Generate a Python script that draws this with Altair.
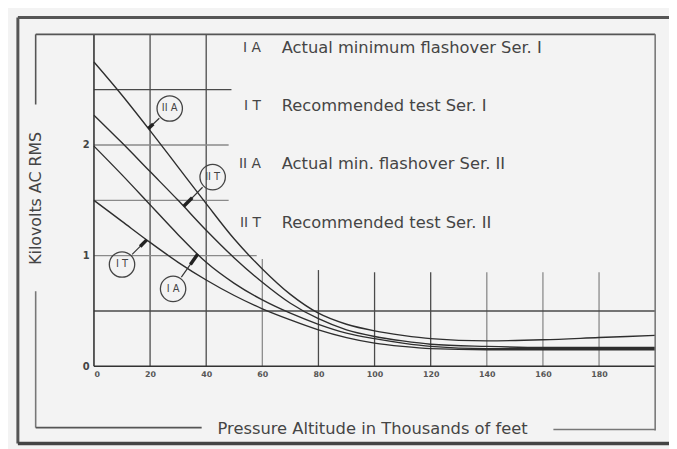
import math
import altair as alt
import pandas as pd

# ---------------- data ----------------
altitude = [0, 10, 20, 30, 40, 50, 60, 70, 80, 90, 100, 110, 120, 140, 160, 180, 200]
kv_IIA = [2.75, 2.45, 2.13, 1.80, 1.47, 1.15, 0.88, 0.65, 0.48, 0.38, 0.32, 0.28, 0.25, 0.23, 0.24, 0.26, 0.28]
kv_IIT = [2.27, 2.02, 1.76, 1.50, 1.23, 0.98, 0.76, 0.57, 0.43, 0.33, 0.27, 0.23, 0.20, 0.18, 0.17, 0.17, 0.17]
kv_IA = [1.99, 1.73, 1.46, 1.19, 0.94, 0.75, 0.60, 0.48, 0.38, 0.30, 0.25, 0.21, 0.18, 0.16, 0.16, 0.16, 0.16]
kv_IT = [1.50, 1.31, 1.12, 0.94, 0.78, 0.64, 0.52, 0.42, 0.33, 0.26, 0.21, 0.18, 0.16, 0.15, 0.15, 0.15, 0.15]

series_codes = ["II A", "II T", "I A", "I T"]
series_values = [kv_IIA, kv_IIT, kv_IA, kv_IT]

legend_codes = ["I A", "I T", "II A", "II T"]
legend_texts = ["Actual minimum flashover Ser. I", "Recommended test Ser. I",
                "Actual min. flashover Ser. II", "Recommended test Ser. II"]

# circled curve labels: which curve, label centre, altitude where the pointer meets the curve
tag_text = ["II A", "II T", "I T", "I A"]
tag_x = [27.0, 42.3, 10.0, 28.2]
tag_y = [2.33, 1.71, 0.92, 0.70]
tip_x = [19.4, 32.0, 18.8, 37.0]

x_ticks = [0, 20, 40, 60, 80, 100, 120, 140, 160, 180]
y_ticks = [0, 1, 2]

# grid of the original drawing (partial lines)
vgrid_x = [20, 40, 60, 80, 100, 120, 140, 160, 180]
vgrid_top = [3.0, 3.0, 0.97, 0.87, 0.85, 0.85, 0.85, 0.85, 0.85]
hgrid_y = [0.5, 1.0, 1.5, 2.0, 2.5]
hgrid_end = [200, 58, 48, 48, 49]

# ---------------- layout ----------------
W, H = 568, 336
XMAX, YMAX = 200, 3.0
PXX, PXY = W / XMAX, H / YMAX
FONT = "DejaVu Sans"
TXT = "#454545"

xs = alt.Scale(domain=[0, XMAX], nice=False, zero=False)
ys = alt.Scale(domain=[0, YMAX], nice=False, zero=False)

rows = []
for code, vals in zip(series_codes, series_values):
    for a, v in zip(altitude, vals):
        rows.append({"series": code, "alt": a, "kv": v})
curves_df = pd.DataFrame(rows)
lookup = dict(zip(series_codes, series_values))


def interp(vals, x):
    for i in range(len(altitude) - 1):
        a0, a1 = altitude[i], altitude[i + 1]
        if a0 <= x <= a1:
            return vals[i] + (vals[i + 1] - vals[i]) * (x - a0) / (a1 - a0)
    return vals[-1]


vg = pd.DataFrame({"x": vgrid_x, "y0": 0.0, "y1": vgrid_top,
                   "shade": ["d", "d", "l", "d", "d", "d", "l", "l", "l"]})
hg = pd.DataFrame({"y": hgrid_y, "x0": 0.0, "x1": hgrid_end,
                   "shade": ["d", "l", "l", "l", "d"]})

axis_x = alt.Axis(values=x_ticks, title=None, grid=False, ticks=False, domain=False,
                  labelFontSize=8, labelColor="#555", labelPadding=4, labelFont=FONT,
                  labelFontWeight="bold", format="d")
axis_y = alt.Axis(values=y_ticks, title=None, grid=False, ticks=False, domain=False,
                  labelFontSize=10, labelColor="#444", labelPadding=5, labelFont=FONT,
                  format="d", labelFontWeight="bold")

shade_scale = alt.Scale(domain=["d", "l"], range=["#4a4a4a", "#8a8a8a"])

vgrid = alt.Chart(vg).mark_rule(strokeWidth=1.3).encode(
    x=alt.X("x:Q", scale=xs, axis=axis_x),
    y=alt.Y("y0:Q", scale=ys, axis=axis_y),
    y2="y1:Q",
    color=alt.Color("shade:N", scale=shade_scale, legend=None),
)
hgrid = alt.Chart(hg).mark_rule(strokeWidth=1.3).encode(
    y=alt.Y("y:Q", scale=ys),
    x=alt.X("x0:Q", scale=xs),
    x2="x1:Q",
    color=alt.Color("shade:N", scale=shade_scale, legend=None),
)
axes_df = pd.DataFrame({"x0": [0, 0], "x1": [0, XMAX], "y0": [0, 0], "y1": [YMAX, 0]})
axes_lines = alt.Chart(axes_df).mark_rule(strokeWidth=1.6, color="#333").encode(
    x=alt.X("x0:Q", scale=xs), x2="x1:Q",
    y=alt.Y("y0:Q", scale=ys), y2="y1:Q",
)

curves = alt.Chart(curves_df).mark_line(strokeWidth=1.4, color="#2e2e2e",
                                        interpolate="monotone").encode(
    x=alt.X("alt:Q", scale=xs),
    y=alt.Y("kv:Q", scale=ys),
    detail="series:N",
)

# pointers from circle edge to curve
R = 14.5
ptr_rows = []
for t, cx, cy, px_ in zip(tag_text, tag_x, tag_y, tip_x):
    py_ = interp(lookup[t], px_)
    dx = (px_ - cx) * PXX
    dy = (py_ - cy) * PXY
    d = math.hypot(dx, dy)
    ex = cx + (dx / d * R) / PXX
    ey = cy + (dy / d * R) / PXY
    mx = px_ + (ex - px_) * 0.45
    my = py_ + (ey - py_) * 0.45
    ptr_rows.append({"t": t, "cx": cx, "cy": cy, "ex": ex, "ey": ey,
                     "tx": px_, "ty": py_, "mx": mx, "my": my})
ptr_df = pd.DataFrame(ptr_rows)

ptr_thin = alt.Chart(ptr_df).mark_rule(strokeWidth=1.2, color="#333").encode(
    x=alt.X("ex:Q", scale=xs), x2="tx:Q", y=alt.Y("ey:Q", scale=ys), y2="ty:Q")
ptr_thick = alt.Chart(ptr_df).mark_rule(strokeWidth=3.5, color="#222").encode(
    x=alt.X("mx:Q", scale=xs), x2="tx:Q", y=alt.Y("my:Q", scale=ys), y2="ty:Q")
tag_circle = alt.Chart(ptr_df).mark_point(shape="circle", filled=False, size=R * R * math.pi,
                                          strokeWidth=1.3, color="#444", opacity=1).encode(
    x=alt.X("cx:Q", scale=xs), y=alt.Y("cy:Q", scale=ys))
tag_label = alt.Chart(ptr_df).mark_text(fontSize=10, font=FONT, color="#444",
                                        align="center", baseline="middle").encode(
    x=alt.X("cx:Q", scale=xs), y=alt.Y("cy:Q", scale=ys), text="t:N")

# legend block (text inside the plot, upper right)
leg_df = pd.DataFrame({"code": legend_codes, "desc": legend_texts,
                       "y": [2.88 - i * 0.527 for i in range(len(legend_codes))]})
leg_code = alt.Chart(leg_df).mark_text(fontSize=14, font=FONT, color=TXT, align="right",
                                       baseline="middle").encode(
    x=alt.value(169), y=alt.Y("y:Q", scale=ys), text="code:N")
leg_desc = alt.Chart(leg_df).mark_text(fontSize=16.5, font=FONT, color=TXT, align="left",
                                       baseline="middle").encode(
    x=alt.value(190), y=alt.Y("y:Q", scale=ys), text="desc:N")


# frames drawn around the plot (pixel offsets from the plot origin)
def seg(x0, y0, x1, y1, w, c):
    return alt.Chart(pd.DataFrame({"k": [0]})).mark_rule(strokeWidth=w, color=c, clip=False).encode(
        x=alt.value(x0), x2=alt.value(x1), y=alt.value(y0), y2=alt.value(y1))


frames = [
    seg(-77, -17, 590, -17, 3, "#555"),
    seg(-77, -17, -77, 414, 3, "#555"),
    seg(-77, 414, 590, 414, 3.5, "#444"),
    seg(-59, 0, W, 0, 1.6, "#555"),
    seg(W, 0, W, 401, 1.6, "#777"),
    seg(-59, 0, -59, 71, 1.6, "#555"),
    seg(-59, 260, -59, 398, 1.6, "#777"),
    seg(-59, 398, 109, 398, 1.6, "#555"),
    seg(465, 400, W, 400, 1.6, "#777"),
]

title_df = pd.DataFrame({"t": ["Kilovolts AC RMS"]})
y_title = alt.Chart(title_df).mark_text(fontSize=16, font=FONT, color=TXT, angle=270,
                                        align="center", baseline="middle").encode(
    x=alt.value(-59), y=alt.value(166), text="t:N")
x_title_df = pd.DataFrame({"t": ["Pressure Altitude in Thousands of feet"]})
x_title = alt.Chart(x_title_df).mark_text(fontSize=16.5, font=FONT, color=TXT,
                                          align="center", baseline="middle").encode(
    x=alt.value(282), y=alt.value(399), text="t:N")

chart = alt.layer(
    vgrid, hgrid, axes_lines, curves, ptr_thin, ptr_thick, tag_circle, tag_label,
    leg_code, leg_desc, y_title, x_title, *frames
).properties(
    width=W, height=H,
    autosize=alt.AutoSizeParams(type="none"),
    padding={"left": 87, "top": 24, "right": 14, "bottom": 81},
    background="#f3f3f3",
).configure_view(stroke=None)

chart.save("out.html", embed_options={"renderer": "svg", "actions": False})
